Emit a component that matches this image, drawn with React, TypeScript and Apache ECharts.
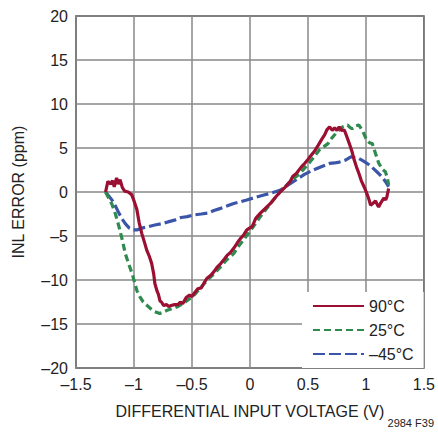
import React, { useEffect, useRef } from "react";
import * as echarts from "echarts";

const xTicks = { min: -1.5, max: 1.5, interval: 0.5 };
const yTicks = { min: -20, max: 20, interval: 5 };

const seriesNames = ["90°C", "25°C", "–45°C"];

const red90: [number, number][] = [
  [-1.245, 0], [-1.225, 1.2], [-1.2, 0.9], [-1.185, 1.3], [-1.17, 0.6], [-1.15, 1.6], [-1.135, 0.9],
  [-1.12, 1.4], [-1.1, 0.5], [-1.08, 0.1], [-1.05, 0], [-1.02, -0.3], [-1.0, -1.0], [-0.975, -2.0],
  [-0.955, -3.5], [-0.933, -4.7], [-0.91, -5.7], [-0.89, -6.6], [-0.868, -7.3], [-0.848, -8.1],
  [-0.83, -9.3], [-0.82, -10.4], [-0.8, -11.3], [-0.79, -11.6], [-0.775, -12.4], [-0.763, -12.5],
  [-0.745, -12.9], [-0.72, -12.8], [-0.7, -13.0], [-0.68, -12.9], [-0.65, -12.8], [-0.62, -12.8],
  [-0.6, -12.5], [-0.58, -12.7], [-0.55, -12.0], [-0.52, -11.7], [-0.5, -11.9], [-0.48, -11.5],
  [-0.45, -11.0], [-0.42, -10.9], [-0.39, -10.2], [-0.37, -9.8], [-0.34, -9.5], [-0.31, -9.05],
  [-0.28, -8.5], [-0.25, -8.1], [-0.22, -7.6], [-0.197, -7.2], [-0.17, -6.9], [-0.14, -6.4],
  [-0.11, -5.8], [-0.083, -5.3], [-0.055, -4.9], [-0.027, -4.3], [0.02, -3.9], [0.05, -3.0],
  [0.09, -2.4], [0.13, -1.9], [0.177, -1.3], [0.22, -0.6], [0.26, 0], [0.3, 0.5], [0.347, 1.2],
  [0.37, 1.8], [0.4, 2.1], [0.44, 2.8], [0.475, 3.3], [0.5, 3.7], [0.53, 4.2], [0.56, 4.7],
  [0.588, 5.3], [0.62, 6.0], [0.644, 6.5], [0.665, 7.1], [0.687, 7.4], [0.71, 7.0], [0.73, 7.3],
  [0.75, 7.0], [0.77, 7.4], [0.79, 7.0], [0.814, 7.05], [0.835, 6.3], [0.857, 5.5], [0.88, 4.6],
  [0.9, 3.6], [0.92, 2.8], [0.94, 2.1], [0.96, 1.3], [0.984, 0.6], [1.0, 0.1], [1.013, -0.35],
  [1.03, -1.0], [1.04, -1.5], [1.06, -1.3], [1.083, -1.0], [1.1, -1.5], [1.11, -1.7], [1.13, -1.2],
  [1.154, -0.7], [1.17, -0.9], [1.18, -0.6], [1.196, 0.4],
];

const green25: [number, number][] = [
  [-1.245, 0], [-1.19, -1.4], [-1.16, -2.5], [-1.13, -3.9], [-1.1, -5.5], [-1.075, -7.0],
  [-1.045, -8.2], [-1.018, -9.2], [-0.975, -11.2], [-0.95, -11.9], [-0.92, -12.5], [-0.862, -13.2],
  [-0.82, -13.6], [-0.777, -13.8], [-0.74, -13.6], [-0.707, -13.4], [-0.66, -13.2], [-0.62, -13.0],
  [-0.58, -12.7], [-0.537, -12.3], [-0.48, -11.7], [-0.42, -10.8], [-0.367, -10.0], [-0.31, -9.3],
  [-0.253, -8.5], [-0.2, -7.7], [-0.14, -7.0], [-0.1, -6.2], [-0.055, -5.45], [0.02, -4.1],
  [0.09, -2.8], [0.177, -1.3], [0.26, 0], [0.347, 1.2], [0.43, 2.1], [0.517, 3.4], [0.56, 4.1],
  [0.6, 4.8], [0.673, 5.5], [0.71, 6.2], [0.743, 6.7], [0.8, 7.4], [0.843, 7.6], [0.865, 7.3],
  [0.885, 7.2], [0.91, 7.5], [0.94, 7.6], [0.97, 7.0], [1.0, 6.1], [1.03, 5.6], [1.055, 5.5],
  [1.08, 4.5], [1.11, 3.3], [1.14, 2.6], [1.168, 2.3], [1.185, 1.6], [1.196, 0.8],
];

const blueM45: [number, number][] = [
  [-1.245, 0], [-1.19, -0.9], [-1.16, -1.6], [-1.13, -2.4], [-1.1, -3.1], [-1.075, -3.6],
  [-1.04, -4.1], [-1.004, -4.3], [-0.97, -4.3], [-0.933, -4.1], [-0.88, -3.95], [-0.82, -3.75],
  [-0.76, -3.6], [-0.707, -3.4], [-0.65, -3.2], [-0.593, -2.9], [-0.54, -2.8], [-0.48, -2.6],
  [-0.42, -2.5], [-0.367, -2.4], [-0.31, -2.1], [-0.253, -1.86], [-0.2, -1.6], [-0.14, -1.3],
  [-0.08, -1.1], [-0.027, -0.9], [0.05, -0.6], [0.12, -0.35], [0.19, -0.1], [0.26, 0.2],
  [0.33, 0.8], [0.4, 1.4], [0.47, 2.0], [0.545, 2.5], [0.62, 2.9], [0.687, 3.25], [0.73, 3.3],
  [0.77, 3.4], [0.82, 3.6], [0.87, 4.0], [0.9, 3.9], [0.94, 3.8], [0.98, 3.5], [1.027, 3.1],
  [1.07, 2.6], [1.11, 2.1], [1.14, 1.7], [1.168, 1.2], [1.196, 0.6],
];

const FONT = "'Liberation Sans Narrow', 'Arial Narrow', 'Liberation Sans', sans-serif";
const fmt = (v: number) => String(v).replace("-", "–");

export default function App() {
  const ref = useRef<HTMLDivElement>(null);
  useEffect(() => {
    if (!ref.current) return;
    const chart = echarts.init(ref.current, null, { renderer: "svg" });
    const mk = (name: string, data: [number, number][], color: string, type: any) => ({
      name,
      type: "line",
      data,
      symbol: "none",
      smooth: false,
      lineStyle: { color, width: 3.2, type },
      itemStyle: { color },
    });
    chart.setOption({
      animation: false,
      backgroundColor: "#fff",
      textStyle: { fontFamily: FONT },
      grid: { left: 76, right: 9, top: 16, bottom: 69, show: true, borderColor: "#333", borderWidth: 1.5 },
      xAxis: {
        type: "value",
        min: xTicks.min,
        max: xTicks.max,
        interval: xTicks.interval,
        name: "DIFFERENTIAL INPUT VOLTAGE (V)",
        nameLocation: "middle",
        nameGap: 35,
        nameTextStyle: { fontSize: 16, color: "#222", fontFamily: FONT },
        axisLine: { show: false },
        axisTick: { show: false },
        axisLabel: { fontSize: 16, color: "#222", margin: 8, formatter: fmt, fontFamily: FONT },
        splitLine: { lineStyle: { color: "#888", width: 1.5 } },
      },
      yAxis: {
        type: "value",
        min: yTicks.min,
        max: yTicks.max,
        interval: yTicks.interval,
        name: "INL ERROR (ppm)",
        nameLocation: "middle",
        nameGap: 50,
        nameTextStyle: { fontSize: 16, color: "#222", fontFamily: FONT },
        axisLine: { show: false },
        axisTick: { show: false },
        axisLabel: { fontSize: 16, color: "#222", margin: 8, formatter: fmt, fontFamily: FONT },
        splitLine: { lineStyle: { color: "#888", width: 1.5 } },
      },
      legend: {
        orient: "vertical",
        left: 302,
        top: 292,
        backgroundColor: "#fff",
        padding: [6, 10, 6, 10],
        itemWidth: 51,
        itemHeight: 14,
        itemGap: 8,
        itemStyle: { opacity: 0 },
        textStyle: { fontSize: 16, color: "#222", fontFamily: FONT },
        data: seriesNames,
      },
      graphic: [
        {
          type: "text",
          right: 4,
          top: 417,
          style: { text: "2984 F39", fontSize: 11, fill: "#222", font: "11px " + FONT },
        },
      ],
      series: [
        mk(seriesNames[2], blueM45, "#3b56a8", [12, 4]),
        mk(seriesNames[1], green25, "#2f8a4e", [7, 4]),
        mk(seriesNames[0], red90, "#9a0f32", "solid"),
      ],
    });
    return () => chart.dispose();
  }, []);
  return <div ref={ref} style={{ position: "fixed", left: 0, top: 0, width: 438, height: 437 }} />;
}
